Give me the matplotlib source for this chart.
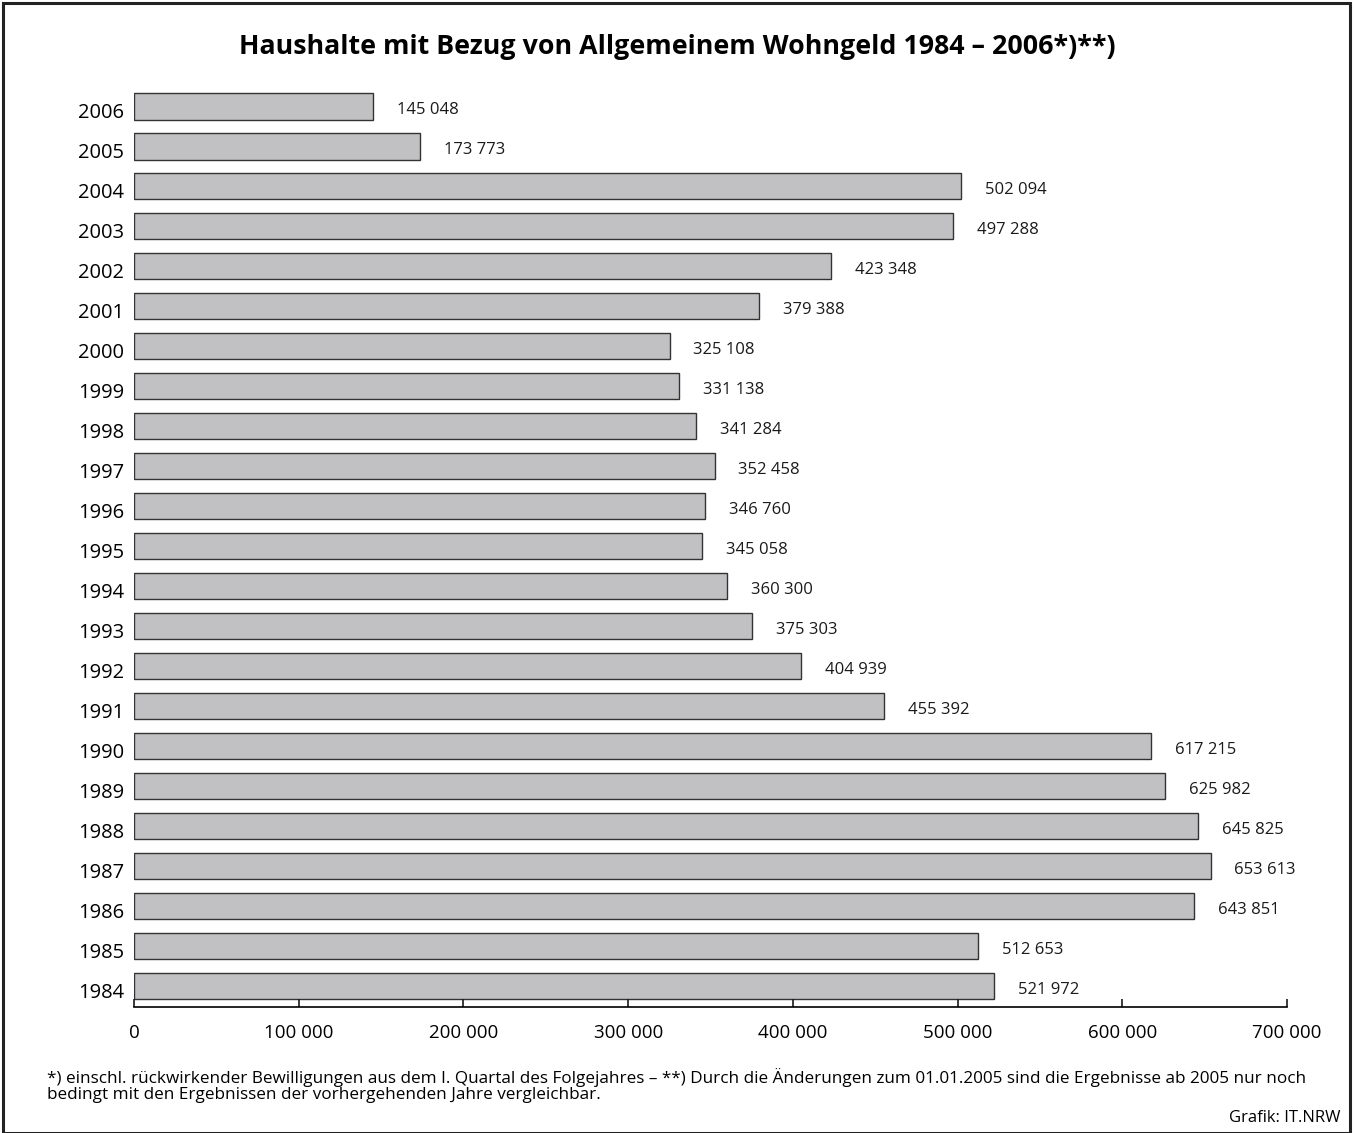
# Wohngeld households 1984-2006, horizontal bars
import matplotlib.pyplot as plt
from matplotlib.patches import Rectangle
from matplotlib.transforms import ScaledTranslation

years = [1984, 1985, 1986, 1987, 1988, 1989, 1990, 1991, 1992, 1993, 1994,
         1995, 1996, 1997, 1998, 1999, 2000, 2001, 2002, 2003, 2004, 2005, 2006]
values = [521972, 512653, 643851, 653613, 645825, 625982, 617215, 455392,
          404939, 375303, 360300, 345058, 346760, 352458, 341284, 331138,
          325108, 379388, 423348, 497288, 502094, 173773, 145048]
xticks = [0, 100000, 200000, 300000, 400000, 500000, 600000, 700000]

def fmt(v):
    return f"{v:,}".replace(",", " ")

plt.rcParams['font.family'] = ['Open Sans', 'DejaVu Sans']

fig = plt.figure(figsize=(13.54, 11.33), dpi=100)
ax = fig.add_axes([0.099, 0.1112, 0.8515, 0.8128])

pos = list(range(len(years)))
ax.barh(pos, values, height=0.67, color='#c1c1c3', edgecolor='#333333', linewidth=1.0)
for p, v in zip(pos, values):
    ax.text(v + 14500, p - 0.1, fmt(v), va='center', ha='left', fontsize=12, color='#1a1a1a')

ax.set_xlim(0, 700000)
ax.set_ylim(-0.525, len(years) - 0.5)
ax.set_yticks(pos)
ax.set_yticklabels([str(y) for y in years], fontsize=14.5)
ax.set_xticks(xticks)
ax.set_xticklabels([fmt(t) for t in xticks], fontsize=13.5)
ax.tick_params(axis='y', length=0, pad=7)
ax.tick_params(axis='x', direction='in', length=6, width=1.2, pad=12, color='#1a1a1a')
shift = ScaledTranslation(0, -0.04, fig.dpi_scale_trans)
for lab in ax.get_yticklabels():
    lab.set_transform(lab.get_transform() + shift)
for s in ['top', 'right', 'left']:
    ax.spines[s].set_visible(False)
ax.spines['bottom'].set_linewidth(1.2)

fig.text(0.5, 0.9585, 'Haushalte mit Bezug von Allgemeinem Wohngeld 1984 \u2013 2006*)**)',
         ha='center', va='center', fontsize=19.3, fontweight='bold')
fig.text(0.035, 0.042,
         '*) einschl. r\u00fcckwirkender Bewilligungen aus dem I. Quartal des Folgejahres \u2013 **) Durch die \u00c4nderungen zum 01.01.2005 sind die Ergebnisse ab 2005 nur noch\n'
         'bedingt mit den Ergebnissen der vorhergehenden Jahre vergleichbar.',
         ha='left', va='center', fontsize=12.3, linespacing=1.05)
fig.text(0.99, 0.0135, 'Grafik: IT.NRW', ha='right', va='center', fontsize=12)

fig.patches.append(Rectangle((0.002, 0.0), 0.995, 0.997, transform=fig.transFigure,
                             fill=False, edgecolor='#222222', linewidth=2.2))

fig.savefig('out.png', dpi=100)
